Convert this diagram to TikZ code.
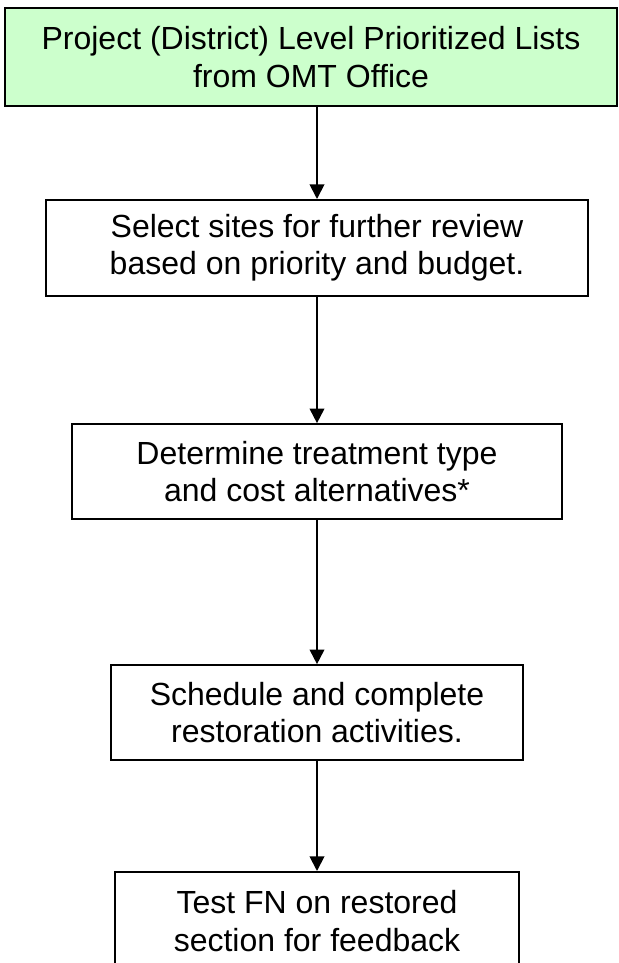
\documentclass[tikz,border=0pt]{standalone}
\usepackage{fontspec}
\setmainfont{Liberation Sans}
\usetikzlibrary{arrows.meta,positioning}
\definecolor{listgreen}{HTML}{CCFFCC}
\tikzset{
  stepbox/.style = {draw, line width=1.5pt, fill=white, align=center, inner sep=0pt,
                    font=\fontsize{24pt}{28pt}\selectfont},
  flow/.style    = {line width=1.4pt, -{Triangle[length=11pt,width=11pt]}},
}

\begin{document}
\begin{tikzpicture}[x=0.75pt,y=-0.75pt]
  \useasboundingbox (0,0) rectangle (618,963);
  \node[stepbox, fill=listgreen, line width=2.2pt, minimum width=459pt, minimum height=73.5pt]
    (lists) at (311,57) {Project (District) Level Prioritized Lists\\from OMT Office};
  \node[stepbox, minimum width=406.5pt, minimum height=72pt]
    (select) at (317,248) {Select sites for further review\\based on priority and budget.};
  \node[stepbox, minimum width=368pt, minimum height=71pt]
    (treat) at (317,471.5) {Determine treatment type\\and cost alternatives*};
  \node[stepbox, minimum width=309pt, minimum height=71pt]
    (sched) at (317,712.5) {Schedule and complete\\restoration activities.};
  \node[stepbox, minimum width=303pt, minimum height=73.5pt]
    (test) at (317,921) {Test FN on restored\\section for feedback};
  \draw[flow] (select.north |- lists.south) -- (select);
  \draw[flow] (select) -- (treat);
  \draw[flow] (treat) -- (sched);
  \draw[flow] (sched) -- (test);
\end{tikzpicture}
\end{document}
